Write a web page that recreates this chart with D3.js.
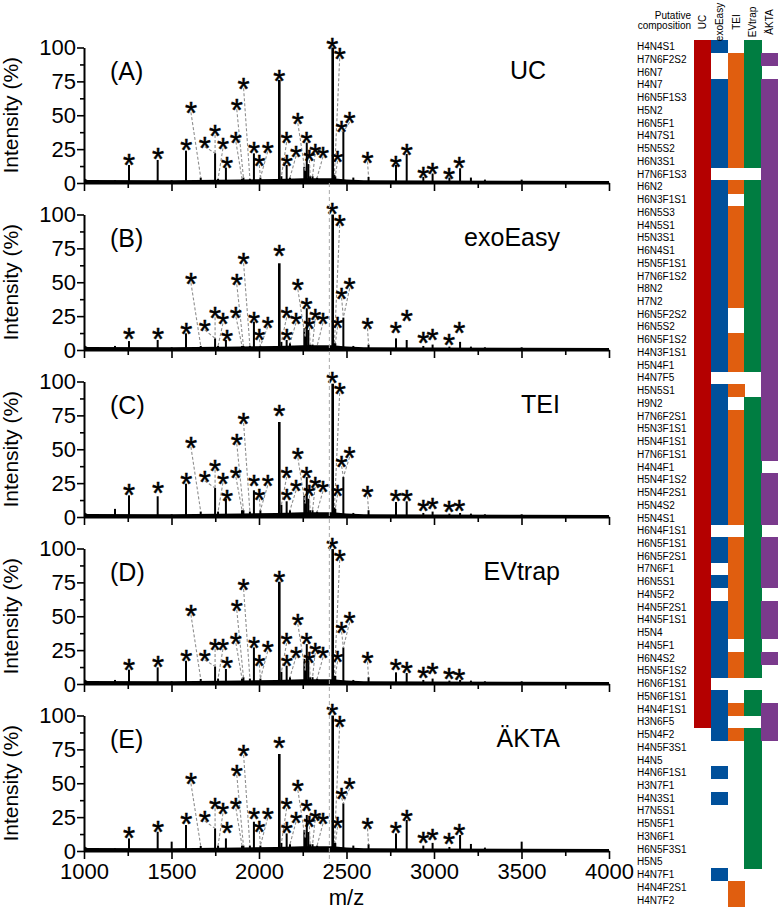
<!DOCTYPE html>
<html><head><meta charset="utf-8">
<script src="https://cdn.jsdelivr.net/npm/d3@7"></script>
<style>
body{margin:0;background:#fff}
svg{display:block}
text{font-family:"Liberation Sans",Arial,Helvetica,sans-serif;fill:#000}
</style>
</head><body>
<svg id="c" width="778" height="910"></svg>
<script>
// ---------------- DATA ----------------
const methods = ["UC", "exoEasy", "TEI", "EVtrap", "ÄKTA"];
const panelTags = ["(A)", "(B)", "(C)", "(D)", "(E)"];
const methodColors = ["#b40000", "#00509b", "#e05e0f", "#007d41", "#7a3a8c"];

const mzDomain = [1000, 4000];
const xTickValues = [1000, 1250, 1500, 1750, 2000, 2250, 2500, 2750, 3000, 3250, 3500, 3750, 4000];
const xTickLabels = [1000, 1500, 2000, 2500, 3000, 3500, 4000];
const yTickValues = [0, 12.5, 25, 37.5, 50, 62.5, 75, 87.5, 100];
const yTickLabels = [0, 25, 50, 75, 100];

// peak positions (m/z) shared by all spectra
const peakMz = [1177, 1257, 1421, 1501, 1583, 1667, 1749, 1766, 1811, 1903, 1911, 1948, 1971, 2008, 2116, 2128, 2158, 2177, 2259, 2263, 2273, 2282, 2292, 2306, 2332, 2421, 2431, 2436, 2482, 2539, 2626, 2783, 2844, 2939, 2992, 3088, 3149, 3211, 3291, 3501];
// relative intensities (%) per spectrum
const peaksUC      = [2, 13.3, 17, 2, 23.9, 4, 22, 3, 11.4, 3, 4, 3, 21.9, 4, 76, 5, 13.3, 4, 12, 9, 29.8, 14, 5, 5, 4, 100, 6, 5, 37.9, 4, 4.5, 13.3, 21.4, 4.5, 7, 4, 10.9, 4, 2.5, 2.5];
const peaksExoEasy = [3, 6.6, 7.4, 2, 12.3, 3, 8.6, 3, 7.4, 3, 3, 3, 20.9, 3, 64, 6, 7.4, 5, 16, 10, 30.8, 14.8, 4, 4, 3, 100, 5, 5, 23.9, 3, 4, 8.6, 7.4, 3, 4, 2.5, 6, 2.5, 2, 2];
const peaksTEI     = [6, 16, 15.3, 2, 24.6, 4, 21.4, 4, 13.5, 5, 5, 4, 19.7, 5, 70.1, 9, 11.6, 5, 15.8, 10, 29.5, 13.5, 5, 5, 4, 98.4, 7, 6, 29.5, 3, 5, 11.1, 11.6, 3, 4, 2.5, 3, 2.5, 2, 2];
const peaksEVtrap  = [3, 10.6, 12.3, 2, 17.2, 3.7, 13, 4, 11.1, 4, 5, 4, 27, 4, 75.5, 9, 13.5, 5, 18.5, 10, 29.5, 17.2, 5, 5, 4, 99.6, 6, 6, 27, 3, 5, 8.6, 8.1, 3, 4, 2.5, 3, 2.5, 2, 2];
const peaksAKTA    = [2, 9.3, 14.2, 6.9, 19.2, 3.7, 16.7, 4, 9.3, 4, 4, 4, 21.6, 4, 71.6, 6, 13, 5, 15.5, 10, 26.6, 14, 5, 5, 4, 100, 6, 6, 35.2, 4, 5, 13, 22.9, 4, 6, 3, 11.8, 5.2, 2.5, 6.9];

// baseline noise level
const baselineMz    = [1000, 1008, 1020, 1500, 1900, 2100, 2250, 2420, 2500, 2600, 3000, 3500, 4000];
const baselineLevel = [5, 3, 2.2, 2, 2.5, 3, 3.5, 3.5, 2.5, 2, 1.8, 1.6, 1.5];

// asterisk annotations: m/z of the asterisk and m/z of the annotated peak (null = directly above)
const starMz     = [1258, 1423, 1585, 1611, 1690, 1749, 1794, 1817, 1873, 1912, 1868, 1971, 2002, 2050, 2116, 2158, 2159, 2222, 2212, 2272, 2288, 2321, 2366, 2419, 2461, 2449, 2472, 2518, 2620, 2781, 2845, 2939, 2992, 3086, 3145];
const starTarget = [null, null, null, 1667, 1749, 1749, 1766, null, 1911, 1948, 1903, null, 2008, 2008, null, 2128, null, 2263, 2177, null, 2292, 2306, 2332, null, 2431, 2436, 2482, 2482, 2626, null, null, null, null, null, null];
const starsUC      = [17.5, 22.4, 28.8, 55.9, 30.5, 39.2, 29.3, 15.8, 58.1, 73.6, 34.2, 26.9, 17, 26.9, 79.8, 33.8, 17, 47.8, 23.7, 33.8, 20.7, 25.1, 23.2, 103.6, 95.7, 20, 42.1, 48.5, 19.5, 16.5, 25.1, 8.4, 11.4, 7.7, 15.3];
const starsExoEasy = [12.3, 12.8, 16, 53.4, 18.5, 27.8, 23.4, 11, 52.2, 67.7, 28.3, 24.6, 11.6, 20.9, 73.8, 27.8, 11.6, 48.5, 23.9, 34.4, 20.2, 26.6, 23.9, 104.6, 96, 20.9, 42.3, 49.2, 19.7, 16.8, 25.8, 9.9, 11.6, 8.1, 17];
const starsTEI     = [20.9, 22.1, 28.8, 55.4, 30.3, 38.6, 29, 16, 57.8, 73.1, 33.2, 27, 17.2, 27, 79.2, 33.2, 17.2, 47.5, 23.4, 33.2, 19.7, 25.8, 22.9, 103.3, 95.2, 20.2, 41.3, 48, 19, 16, 16, 8.6, 10.6, 8.1, 9];
const starsEVtrap  = [14.8, 17.2, 21.4, 54.9, 21.4, 29.5, 29.5, 16, 58.3, 73.8, 33.9, 31, 18, 27.8, 79.9, 33.9, 17.7, 48, 23.9, 33.7, 20.2, 26.6, 23.4, 104, 95.2, 20.4, 42.3, 49.2, 20.2, 14.8, 12.8, 9.1, 11.6, 8.1, 7.4];
const starsAKTA    = [14.2, 18.4, 24.1, 53.6, 25.8, 35.2, 31.5, 17.4, 59.8, 74.5, 35.2, 28.3, 18.4, 28.3, 80.7, 35.2, 17.9, 48.7, 25.3, 34, 22, 26.6, 24.1, 104.5, 96.2, 21.6, 43, 49.9, 20.4, 17.4, 26.6, 10.6, 12.5, 9.3, 16.2];

const refLineMz = 2402;

// putative compositions and detection per method
const compositions = ["H4N4S1","H7N6F2S2","H6N7","H4N7","H6N5F1S3","H5N2","H6N5F1","H4N7S1","H5N5S2","H6N3S1",
 "H7N6F1S3","H6N2","H6N3F1S1","H6N5S3","H4N5S1","H5N3S1","H6N4S1","H5N5F1S1","H7N6F1S2","H8N2",
 "H7N2","H6N5F2S2","H6N5S2","H6N5F1S2","H4N3F1S1","H5N4F1","H4N7F5","H5N5S1","H9N2","H7N6F2S1",
 "H5N3F1S1","H5N4F1S1","H7N6F1S1","H4N4F1","H5N4F1S2","H5N4F2S1","H5N4S2","H5N4S1","H6N4F1S1","H6N5F1S1",
 "H6N5F2S1","H7N6F1","H6N5S1","H4N5F2","H4N5F2S1","H4N5F1S1","H5N4","H4N5F1","H6N4S2","H5N5F1S2",
 "H6N6F1S1","H5N6F1S1","H4N4F1S1","H3N6F5","H5N4F2","H4N5F3S1","H4N5","H4N6F1S1","H3N7F1","H4N3S1",
 "H7N5S1","H5N5F1","H3N6F1","H6N5F3S1","H5N5","H4N7F1","H4N4F2S1","H4N7F2"];
const inUC = [1,1,1,1,1,1,1,1,1,1, 1,1,1,1,1,1,1,1,1,1, 1,1,1,1,1,1,1,1,1,1, 1,1,1,1,1,1,1,1,1,1, 1,1,1,1,1,1,1,1,1,1, 1,1,1,1,0,0,0,0,0,0, 0,0,0,0,0,0,0,0];
const inExoEasy = [1,0,0,1,1,1,1,1,1,1, 0,1,1,1,1,1,1,1,1,1, 1,1,1,1,1,1,0,1,1,1, 1,1,1,1,1,1,1,1,0,1, 1,0,1,0,1,1,1,1,1,1, 0,1,1,1,1,0,0,1,0,1, 0,0,0,0,0,1,0,0];
const inTEI = [0,1,1,1,1,1,1,1,1,1, 0,1,0,1,1,1,1,1,1,1, 1,0,0,1,1,1,0,1,0,1, 1,1,1,1,1,1,1,1,0,1, 1,1,1,1,1,1,1,0,1,1, 0,0,1,0,1,0,0,0,0,0, 0,0,0,0,0,0,1,1];
const inEVtrap = [1,1,1,1,1,1,1,1,1,1, 0,1,1,1,1,1,1,1,1,1, 1,1,1,1,1,1,0,0,1,1, 1,1,1,1,1,1,1,1,1,1, 1,1,1,1,1,1,1,1,1,1, 0,1,1,0,1,1,1,1,1,1, 1,1,1,1,1,0,0,0];
const inAKTA = [0,1,0,1,1,1,1,1,1,1, 1,1,1,1,1,1,1,1,1,1, 1,1,1,1,1,1,1,1,1,1, 1,1,1,0,1,1,1,1,0,1, 1,1,1,0,1,1,1,0,1,0, 0,0,1,1,1,0,0,0,0,0, 0,0,0,0,0,0,0,0];

// ---------------- DRAW ----------------
const peaksBy = [peaksUC, peaksExoEasy, peaksTEI, peaksEVtrap, peaksAKTA];
const starsBy = [starsUC, starsExoEasy, starsTEI, starsEVtrap, starsAKTA];
const inBy = [inUC, inExoEasy, inTEI, inEVtrap, inAKTA];

const svg = d3.select("#c");
const x = d3.scaleLinear().domain(mzDomain).range([84, 609]);
const panelStep = 167, zeroY = 183, plotH = 135.5;
const starFs = 31;

methods.forEach((m, i) => {
  const y = d3.scaleLinear().domain([0, 100]).range([zeroY + panelStep * i, zeroY - plotH + panelStep * i]);
  const g = svg.append("g");
  const peaks = peaksBy[i], stars = starsBy[i];

  // baseline noise
  const base = baselineMz.map((v, k) => [v, baselineLevel[k]]);
  g.append("path").datum(base)
    .attr("d", d3.area().x(d => x(d[0])).y0(y(-0.8)).y1(d => y(d[1])))
    .attr("fill", "#000");

  // peaks
  g.selectAll("line.pk").data(peakMz.map((v, k) => [v, peaks[k]])).join("line")
    .attr("class", "pk")
    .attr("x1", d => x(d[0])).attr("x2", d => x(d[0]))
    .attr("y1", y(0)).attr("y2", d => y(d[1]))
    .attr("stroke", "#000").attr("stroke-width", d => d[1] > 50 ? 2.6 : 2);

  // dashed connectors
  const ann = starMz.map((v, k) => {
    const t = starTarget[k];
    let ti = null;
    if (t !== null) { const pi = peakMz.indexOf(t); ti = pi >= 0 ? peaks[pi] : 3; }
    return { mz: v, it: stars[k], tmz: t, tit: ti };
  });
  g.selectAll("line.cn").data(ann.filter(d => d.tmz !== null)).join("line")
    .attr("class", "cn")
    .attr("x1", d => x(d.mz)).attr("y1", d => y(d.it) + 5)
    .attr("x2", d => x(d.tmz)).attr("y2", d => y(d.tit))
    .attr("stroke", "#8f8f8f").attr("stroke-width", 1.1).attr("stroke-dasharray", "3,2");

  // asterisks
  g.selectAll("text.st").data(ann).join("text")
    .attr("class", "st")
    .attr("x", d => x(d.mz)).attr("y", d => y(d.it))
    .attr("dy", "0.55em")
    .attr("text-anchor", "middle")
    .attr("font-size", starFs)
    .attr("stroke", "#000").attr("stroke-width", 0.5)
    .text("*");

  // y axis
  const ya = g.append("g").attr("transform", `translate(${x(mzDomain[0])},0)`)
    .call(d3.axisLeft(y).tickValues(yTickValues).tickSize(7).tickPadding(1).tickSizeOuter(0)
      .tickFormat(d => yTickLabels.includes(d) ? d : ""));
  ya.selectAll(".tick line").attr("x2", d => yTickLabels.includes(d) ? -7 : -4).attr("stroke-width", 1.6);
  ya.select(".domain").attr("stroke-width", 2);
  ya.selectAll("text").attr("font-size", 22).attr("font-family", "Liberation Sans, Arial, sans-serif");

  // x axis
  const last = i === methods.length - 1;
  const xa = g.append("g").attr("transform", `translate(0,${y(0)})`)
    .call(d3.axisBottom(x).tickValues(xTickValues).tickSize(8).tickPadding(4).tickSizeOuter(0)
      .tickFormat(d => (last && xTickLabels.includes(d)) ? d : ""));
  xa.selectAll(".tick line").attr("y2", d => xTickLabels.includes(d) ? 8 : 5).attr("stroke-width", 1.6);
  xa.select(".domain").attr("stroke-width", 2);
  xa.selectAll("text").attr("font-size", 22).attr("font-family", "Liberation Sans, Arial, sans-serif");

  // y title
  g.append("text")
    .attr("transform", `translate(18,${(y(0) + y(100)) / 2}) rotate(-90)`)
    .attr("text-anchor", "middle").attr("font-size", 21)
    .text("Intensity (%)");

  // panel tag and method
  g.append("text").attr("x", 110).attr("y", y(100) + 32.5).attr("font-size", 25).text(panelTags[i]);
  g.append("text").attr("x", m === "UC" ? 546 : 560).attr("y", y(100) + 31)
    .attr("text-anchor", "end").attr("font-size", 25).text(m);
});

// reference dashed line spanning panels
svg.append("line")
  .attr("x1", x(refLineMz)).attr("x2", x(refLineMz))
  .attr("y1", zeroY).attr("y2", zeroY + panelStep * 4 + 12)
  .attr("stroke", "#a8a8a8").attr("stroke-width", 1).attr("stroke-dasharray", "4,3");

// m/z label
svg.append("text").attr("x", (x(1000) + x(4000)) / 2).attr("y", 905)
  .attr("text-anchor", "middle").attr("font-size", 22).text("m/z");

// ---------------- RIGHT: composition matrix ----------------
const colX = d3.scaleBand().domain(methods).range([694, 778]);
const rowY = d3.scaleBand().domain(d3.range(compositions.length)).range([40.3, 906.4]);

const mg = svg.append("g").attr("shape-rendering", "crispEdges");
methods.forEach((m, j) => {
  mg.selectAll(null).data(compositions.map((c, r) => ({ r, v: inBy[j][r] })).filter(d => d.v)).join("rect")
    .attr("x", colX(m)).attr("width", colX.bandwidth() + 0.3)
    .attr("y", d => rowY(d.r)).attr("height", rowY.bandwidth() + 0.4)
    .attr("fill", methodColors[j]);
});

svg.selectAll("text.cmp").data(compositions).join("text")
  .attr("class", "cmp")
  .attr("x", 637).attr("y", (d, r) => rowY(r) + rowY.bandwidth() / 2)
  .attr("dy", "0.36em").attr("font-size", 10).text(d => d);

svg.append("text").attr("x", 691).attr("y", 18.5).attr("text-anchor", "end").attr("font-size", 10).text("Putative");
svg.append("text").attr("x", 691).attr("y", 29).attr("text-anchor", "end").attr("font-size", 10).text("composition");

svg.selectAll("text.mh").data(methods).join("text")
  .attr("class", "mh")
  .attr("transform", d => `translate(${colX(d) + colX.bandwidth() / 2},22) rotate(-90)`)
  .attr("text-anchor", "middle").attr("dy", "0.36em").attr("font-size", 10).text(d => d);
</script>
</body></html>
